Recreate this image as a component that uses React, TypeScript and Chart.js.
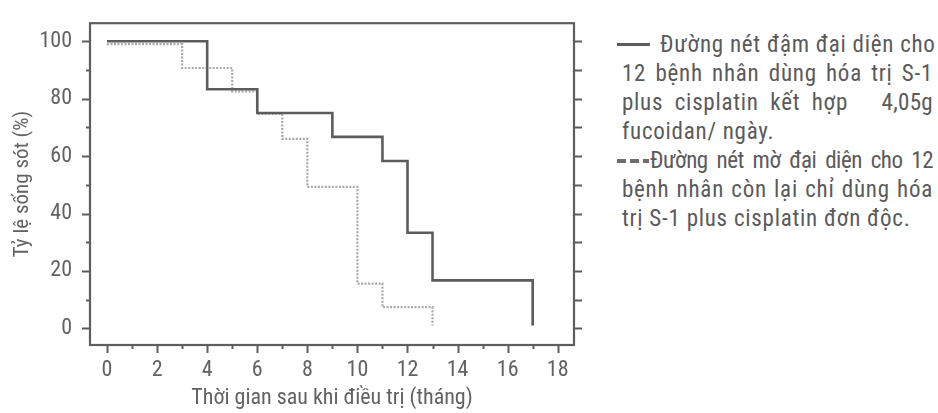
import React, { useEffect, useRef } from "react";
import { Chart, registerables } from "chart.js";

Chart.register(...registerables);

// ---- data ----
const xTickValues = [0, 2, 4, 6, 8, 10, 12, 14, 16, 18];
const yTickValues = [0, 20, 40, 60, 80, 100];
const fucoidanMonths = [0, 4, 6, 9, 11, 12, 13, 17];
const fucoidanSurvival = [100, 83.3, 75, 66.7, 58.3, 33.3, 16.7, 1];
const controlMonths = [0, 3, 5, 6, 7, 8, 10, 11, 13];
const controlSurvival = [99, 90.7, 82.5, 74.7, 66, 49.3, 15.6, 7.4, 1];
const xTitle = "Thời gian sau khi điều trị (tháng)";
const yTitle = "Tỷ lệ sống sót (%)";
const legendSolidLines = [
  "Đường nét đậm đại diện cho",
  "12 bệnh nhân dùng hóa trị S-1",
  "plus cisplatin kết hợp",
  "4,05g",
  "fucoidan/ ngày.",
];
const legendDashedLines = [
  "Đường nét mờ đại diện cho 12",
  "bệnh nhân còn lại chỉ dùng hóa",
  "trị S-1 plus cisplatin đơn độc.",
];

const FONT = "Roboto, 'Noto Sans', sans-serif";
const TEXT = "#626262";
const FRAME = "#5e5e5e";

const frameTicks = {
  id: "frameTicks",
  afterDraw(chart: any) {
    const { ctx, chartArea: a, scales } = chart;
    const x = scales.x;
    const y = scales.y;
    ctx.save();
    ctx.strokeStyle = FRAME;
    ctx.lineWidth = 2.2;
    ctx.lineCap = "butt";
    ctx.strokeRect(a.left, a.top, a.right - a.left, a.bottom - a.top);
    ctx.beginPath();
    ctx.lineWidth = 2;
    for (let v = 0; v <= 18; v++) {
      const px = Math.round(x.getPixelForValue(v)) + 0.5;
      const len = v % 2 === 0 ? 8 : 4;
      ctx.moveTo(px, a.bottom);
      ctx.lineTo(px, a.bottom + len);
    }
    for (let v = 0; v <= 100; v += 10) {
      const py = Math.round(y.getPixelForValue(v)) + 0.5;
      const len = v % 20 === 0 ? 8 : 4;
      ctx.moveTo(a.left - len, py);
      ctx.lineTo(a.left, py);
      ctx.moveTo(a.right, py);
      ctx.lineTo(a.right + 8, py);
    }
    ctx.stroke();
    ctx.restore();
  },
};

function KMChart() {
  const ref = useRef<HTMLCanvasElement | null>(null);
  useEffect(() => {
    if (!ref.current) return;
    const chart = new Chart(ref.current, {
      type: "line",
      data: {
        datasets: [
          {
            label: "fucoidan",
            data: fucoidanMonths.map((m, i) => ({ x: m, y: fucoidanSurvival[i] })),
            stepped: "before",
            borderColor: "#5c5c5c",
            borderWidth: 2.6,
            pointRadius: 0,
            fill: false,
            order: 1,
          },
          {
            label: "control",
            data: controlMonths.map((m, i) => ({ x: m, y: controlSurvival[i] })),
            stepped: "before",
            borderColor: "#a8a8a8",
            borderWidth: 2.2,
            borderDash: [2, 1.5],
            pointRadius: 0,
            fill: false,
            order: 2,
          },
        ],
      },
      options: {
        animation: false,
        responsive: false,
        maintainAspectRatio: false,
        layout: { padding: { left: 0, top: 12, right: 26, bottom: 0 } },
        plugins: { legend: { display: false }, tooltip: { enabled: false } },
        scales: {
          x: {
            type: "linear",
            min: -0.68,
            max: 18.65,
            afterBuildTicks: (s: any) => {
              s.ticks = xTickValues.map((v) => ({ value: v }));
            },
            afterFit: (s: any) => {
              s.height = 68;
            },
            grid: { display: true, drawOnChartArea: false, drawTicks: true, tickLength: 8, color: "transparent" },
            border: { display: false },
            ticks: { color: TEXT, font: { family: FONT, size: 22, weight: "normal condensed" as any }, padding: 4, maxRotation: 0 },
            title: {
              display: true,
              text: xTitle,
              color: TEXT,
              font: { family: FONT, size: 22, weight: "normal condensed" as any },
              padding: { top: 0, bottom: 1 },
            },
          },
          y: {
            type: "linear",
            min: -5.8,
            max: 106.3,
            afterBuildTicks: (s: any) => {
              s.ticks = yTickValues.map((v) => ({ value: v }));
            },
            afterFit: (s: any) => {
              s.width = 90;
            },
            grid: { display: true, drawOnChartArea: false, drawTicks: true, tickLength: 8, color: "transparent" },
            border: { display: false },
            ticks: { color: TEXT, font: { family: FONT, size: 22, weight: "normal condensed" as any }, padding: 10 },
            title: {
              display: true,
              text: yTitle,
              color: TEXT,
              font: { family: FONT, size: 21, weight: "normal condensed" as any },
              padding: { top: 10, bottom: 0 },
            },
          },
        },
      },
      plugins: [frameTicks],
    });
    return () => chart.destroy();
  }, []);
  return <canvas ref={ref} width={600} height={413} style={{ width: 600, height: 413, display: "block" }} />;
}

const lineStyle: React.CSSProperties = {
  whiteSpace: "nowrap",
  textAlign: "justify",
  textAlignLast: "justify",
  height: 29,
  lineHeight: "29px",
};

export default function App() {
  return (
    <div style={{ position: "fixed", left: 0, top: 0, width: 938, height: 413, background: "#fff", overflow: "hidden" }}>
      <div style={{ position: "absolute", left: 0, top: 0 }}>
        <KMChart />
      </div>
      <div
        style={{
          position: "absolute",
          left: 622,
          top: 30,
          width: 311,
          fontFamily: FONT,
          fontStretch: "condensed",
          fontSize: 23,
          letterSpacing: 0.75,
          color: "#5a5a5a",
        }}
      >
        <div style={{ ...lineStyle, display: "flex", alignItems: "center", marginLeft: -5 }}>
          <span style={{ display: "inline-block", flex: "none", width: 33, height: 3.5, background: "#5c5c5c", marginRight: 10 }} />
          <span style={{ flex: 1, ...lineStyle }}>{legendSolidLines[0]}</span>
        </div>
        <div style={lineStyle}>{legendSolidLines[1]}</div>
        <div style={{ ...lineStyle, display: "flex" }}>
          <span style={{ ...lineStyle, display: "block", width: 226, flex: "none" }}>{legendSolidLines[2]}</span>
          <span style={{ flex: 1, display: "block", textAlign: "right", textAlignLast: "right", letterSpacing: 0.3 }}>
            {legendSolidLines[3]}
          </span>
        </div>
        <div style={{ ...lineStyle, textAlignLast: "left" }}>{legendSolidLines[4]}</div>
        <div style={{ ...lineStyle, display: "flex", alignItems: "center", marginLeft: -5 }}>
          <span
            style={{
              display: "inline-block",
              flex: "none",
              width: 32,
              height: 4,
              marginRight: 1,
              background: "repeating-linear-gradient(to right, #6e6e6e 0 9px, transparent 9px 13px)",
            }}
          />
          <span style={{ flex: 1, ...lineStyle, letterSpacing: -0.5, wordSpacing: -2 }}>{legendDashedLines[0]}</span>
        </div>
        <div style={lineStyle}>{legendDashedLines[1]}</div>
        <div style={{ ...lineStyle, textAlignLast: "left" }}>{legendDashedLines[2]}</div>
      </div>
    </div>
  );
}
